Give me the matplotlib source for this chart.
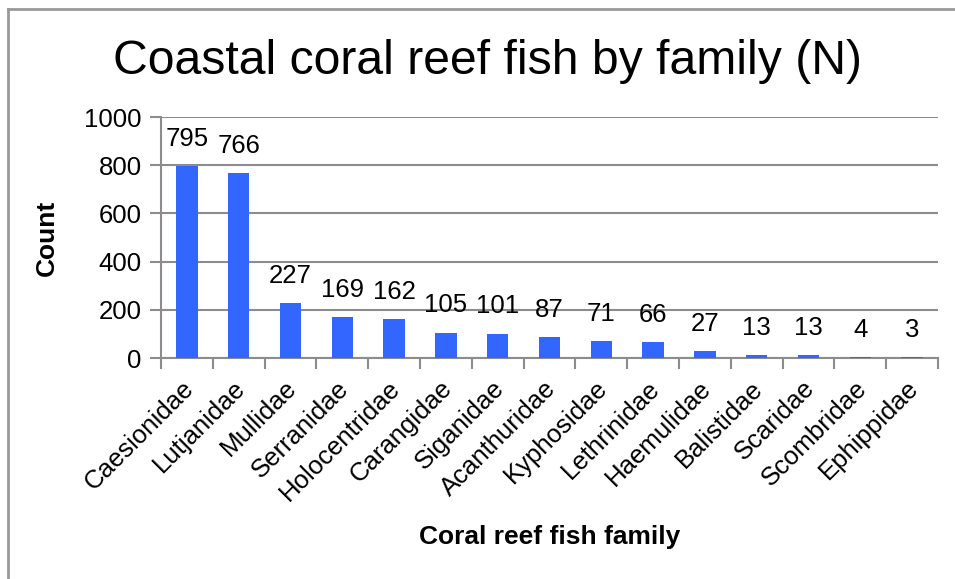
import matplotlib.pyplot as plt
from matplotlib.lines import Line2D

families = ["Caesionidae", "Lutjanidae", "Mullidae", "Serranidae", "Holocentridae",
            "Carangidae", "Siganidae", "Acanthuridae", "Kyphosidae", "Lethrinidae",
            "Haemulidae", "Balistidae", "Scaridae", "Scombridae", "Ephippidae"]
counts = [795, 766, 227, 169, 162, 105, 101, 87, 71, 66, 27, 13, 13, 4, 3]
yticks = [0, 200, 400, 600, 800, 1000]

plt.rcParams['font.family'] = ['Liberation Sans', 'DejaVu Sans']
grey = "#8c8c8c"

W, H = 955, 579
fig = plt.figure(figsize=(W / 100, H / 100), dpi=100)
ax = fig.add_axes([161 / W, 1 - 358 / H, (938 - 161) / W, (358 - 117) / H])

# outer chart border (left and top edges visible)
fig.add_artist(Line2D([7.5 / W, 7.5 / W], [0, 1 - 9 / H], transform=fig.transFigure, color="#999999", lw=2))
fig.add_artist(Line2D([7.5 / W, 1], [1 - 9 / H, 1 - 9 / H], transform=fig.transFigure, color="#999999", lw=2))

x = range(len(families))
bars = ax.bar(x, counts, width=0.41, color="#3366ff", zorder=3)
ax.bar_label(bars, labels=[str(c) for c in counts], padding=11, fontsize=18.5)

ax.set_xlim(-0.5, len(families) - 0.5)
ax.set_ylim(0, 1000)
ax.set_yticks(yticks)
ax.set_yticklabels([str(v) for v in yticks], fontsize=18.5)
ax.yaxis.grid(True, color=grey, lw=1.5, zorder=0)

# category separators as major ticks, labels on invisible minor ticks
ax.set_xticks([i + 0.5 for i in range(-1, len(families))], minor=False)
ax.set_xticklabels([])
ax.set_xticks([i - 0.11 for i in x], minor=True)
ax.set_xticklabels(families, minor=True, rotation=45, ha="right", rotation_mode="anchor", fontsize=18.5)
ax.tick_params(axis="x", which="major", length=8, width=1.5, color=grey, direction="out")
ax.tick_params(axis="x", which="minor", length=0, pad=13)
ax.tick_params(axis="y", length=8, width=1.5, color=grey, pad=6)

for s in ["top", "right"]:
    ax.spines[s].set_visible(False)
for s in ["left", "bottom"]:
    ax.spines[s].set_color(grey)
    ax.spines[s].set_linewidth(1.5)

ax.set_ylabel("Count", fontsize=19, fontweight="bold", labelpad=18)
fig.text((161 + 938) / 2 / W, 1 - 537 / H, "Coral reef fish family", ha="center", va="center",
         fontsize=19, fontweight="bold")
fig.text(487 / W, 1 - 62 / H, "Coastal coral reef fish by family (N)", ha="center", va="center",
         fontsize=34.7)

fig.savefig("out.png", dpi=100)
